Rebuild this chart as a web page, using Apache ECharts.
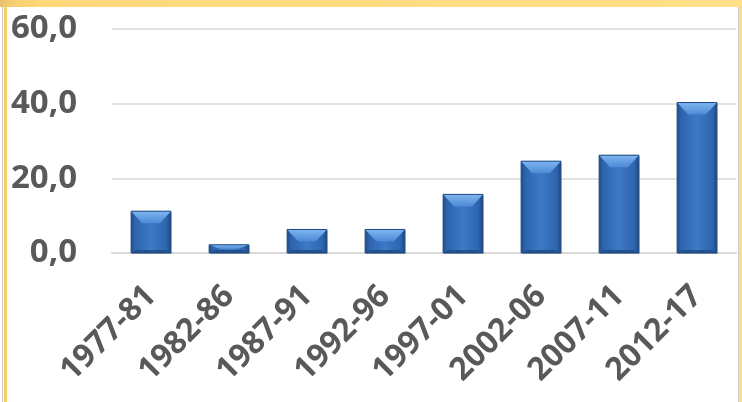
<!DOCTYPE html>
<html>
<head>
<meta charset="utf-8">
<script src="https://cdn.jsdelivr.net/npm/echarts@6/dist/echarts.min.js"></script>
<style>
html,body{margin:0;padding:0;background:#fff;}
#wrap{position:relative;width:742px;height:402px;overflow:hidden;background:#fff;}
#topband{position:absolute;left:0;top:0;width:742px;height:7px;background:linear-gradient(90deg,#e9c26f 0px,#f7d170 15px,#ffd97a 45px,#ffdf88 100%);}
#lb{position:absolute;left:2px;top:7px;width:1px;height:395px;background:#c8c8c8;}
#lb2{position:absolute;left:4px;top:7px;width:3px;height:395px;background:#f6cf6a;}
#rb{position:absolute;left:738px;top:7px;width:1px;height:395px;background:#d0d0d0;}
#rb2{position:absolute;left:739px;top:7px;width:3px;height:395px;background:#f9dc8e;}
#chart{position:absolute;left:0;top:0;width:742px;height:402px;}
</style>
</head>
<body>
<div id="wrap">
<div id="chart"></div>
<div id="topband"></div>
<div id="lb"></div><div id="lb2"></div>
<div id="rb"></div><div id="rb2"></div>
</div>
<script>
var categories = ['1977-81','1982-86','1987-91','1992-96','1997-01','2002-06','2007-11','2012-17'];
var values = [11.2, 2.2, 6.3, 6.3, 15.7, 24.6, 26.2, 40.3];
var yTicks = {min: 0, max: 60, interval: 20};

function renderBar(params, api) {
  var idx = api.value(0);
  var top = api.coord([idx, api.value(1)]);
  var base = api.coord([idx, 0]);
  var w = api.size([1, 0])[0] * 0.51;
  var x0 = top[0] - w / 2, x1 = top[0] + w / 2;
  var y0 = top[1], y1 = base[1];
  var h = y1 - y0;
  var b = Math.min(12, h / 2);
  var s = Math.min(5, w / 4);
  return {
    type: 'group',
    children: [
      {type: 'rect', shape: {x: x0 + 1, y: y0 + 1, width: w, height: h},
        style: {fill: 'rgba(0,0,0,0.18)'}},
      {type: 'rect', shape: {x: x0, y: y0, width: w, height: h},
        style: {fill: new echarts.graphic.LinearGradient(0, 0, 1, 0, [
          {offset: 0, color: '#1f4c88'},
          {offset: 0.1, color: '#2d64ad'},
          {offset: 0.5, color: '#3c79c7'},
          {offset: 0.9, color: '#2d64ad'},
          {offset: 1, color: '#1c4580'}
        ])}},
      {type: 'polygon', shape: {points: [[x0, y0], [x1, y0], [x1 - s * 2.2, y0 + b], [x0 + s * 2.2, y0 + b]]},
        style: {fill: new echarts.graphic.LinearGradient(0, 0, 0, 1, [
          {offset: 0, color: '#7fb6f0'},
          {offset: 1, color: '#4d8ad6'}
        ])}},
      {type: 'polygon', shape: {points: [[x0, y1], [x1, y1], [x1 - s, y1 - 3], [x0 + s, y1 - 3]]},
        style: {fill: '#23538f'}},
      {type: 'rect', shape: {x: x0, y: y0, width: w, height: h},
        style: {fill: 'none', stroke: '#1f4a82', lineWidth: 1}}
    ]
  };
}

var chart = echarts.init(document.getElementById('chart'), null, {renderer: 'canvas'});
chart.setOption({
  animation: false,
  backgroundColor: 'transparent',
  grid: {left: 112, right: 6, top: 29, bottom: 149},
  xAxis: {
    type: 'category',
    data: categories,
    axisLine: {show: true, lineStyle: {color: '#d9d9d9', width: 2}},
    axisTick: {show: false},
    axisLabel: {
      rotate: 45, interval: 0, margin: 38,
      color: '#595959', fontFamily: 'Open Sans', fontWeight: 'bold', fontSize: 32
    }
  },
  yAxis: {
    type: 'value',
    min: yTicks.min, max: yTicks.max, interval: yTicks.interval,
    axisLine: {show: false},
    axisTick: {show: false},
    splitLine: {lineStyle: {color: '#d9d9d9', width: 1.5}},
    axisLabel: {
      margin: 35, color: '#595959', fontFamily: 'Open Sans', fontWeight: 'bold', fontSize: 33,
      formatter: function (v) { return v.toFixed(1).replace('.', ','); }
    }
  },
  series: [{
    type: 'custom',
    renderItem: renderBar,
    encode: {x: 0, y: 1},
    data: values.map(function (v, i) { return [i, v]; })
  }]
});
</script>
</body>
</html>
